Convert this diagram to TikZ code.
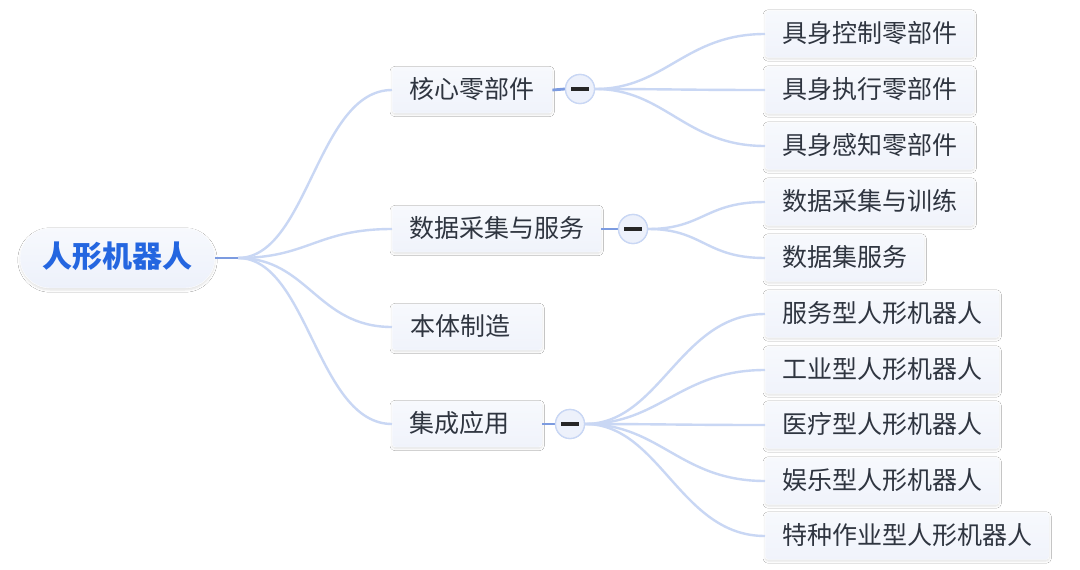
\documentclass[tikz,border=0pt]{standalone}
\usepackage{fontspec}
\setmainfont{Noto Sans CJK SC}
\usetikzlibrary{shadows.blur}
\definecolor{linec}{HTML}{C9D7F4}
\definecolor{darkline}{HTML}{7C9BE0}
\definecolor{boxfill}{HTML}{F0F3FB}
\definecolor{boxtop}{HTML}{F7F9FD}
\definecolor{txt}{HTML}{2F3540}
\definecolor{rootblue}{HTML}{2466E0}
\definecolor{rootfill}{HTML}{EDF1FB}
\tikzset{
  base/.style={rounded corners=3pt, top color=boxtop, bottom color=boxfill, draw=white,
    blur shadow={shadow xshift=0pt, shadow yshift=-1.5pt, shadow opacity=12, shadow blur steps=6, shadow blur extra rounding=2pt},
    text=txt, font=\fontsize{25}{25}\selectfont, inner xsep=17pt, inner ysep=0pt,
    minimum height=46pt, text height=20.5pt, text depth=3pt, anchor=west},
  lvone/.style={base, minimum width=150pt, align=left},
  lvtwo/.style={base, minimum height=47pt},
  rootbox/.style={rounded corners=30pt, top color=boxtop, bottom color=rootfill, draw=white, text=rootblue,
    blur shadow={shadow xshift=0pt, shadow yshift=-2pt, shadow opacity=12, shadow blur steps=6},
    font=\fontsize{30}{30}\selectfont\bfseries, minimum height=60pt, minimum width=195pt, inner xsep=20pt,
    text height=23pt, text depth=4pt},
  conn/.style={draw=linec, line width=2.4pt},
  stub/.style={draw=darkline, line width=2.8pt},
  toggle/.style={circle, draw=linec, line width=1.3pt, fill=rootfill, minimum size=29pt, inner sep=0pt},
}
\begin{document}
\begin{tikzpicture}[x=1pt,y=-1pt]
\useasboundingbox[fill=white] (0,0) rectangle (1080,570);

\node[rootbox] (root) at (117.5,258) {人形机器人};
\coordinate (rj) at (238,258);

\node[lvone, text width=126pt] (a) at (392,90) {核心零部件};
\node[lvone] (b) at (392,229) {数据采集与服务};
\node[lvone, text width=114pt] (c) at (392,327) {本体制造};
\node[lvone, text width=116pt] (d) at (392,424) {集成应用};

\node[toggle] (ta) at (580,89) {};
\node[toggle] (tb) at (633,229) {};
\node[toggle] (td) at (570,424) {};

\node[lvtwo] (a1) at (765,34) {具身控制零部件};
\node[lvtwo] (a2) at (765,90) {具身执行零部件};
\node[lvtwo] (a3) at (765,146) {具身感知零部件};
\node[lvtwo] (b1) at (765,202) {数据采集与训练};
\node[lvtwo] (b2) at (765,258) {数据集服务};
\node[lvtwo] (d1) at (765,314) {服务型人形机器人};
\node[lvtwo] (d2) at (765,370) {工业型人形机器人};
\node[lvtwo] (d3) at (765,425) {医疗型人形机器人};
\node[lvtwo] (d4) at (765,481) {娱乐型人形机器人};
\node[lvtwo] (d5) at (765,536) {特种作业型人形机器人};

\foreach \n in {a,b,c,d}{
  \draw[conn] (rj) .. controls +(70,0) and +(-75,0) .. (\n.west);
}
\foreach \n in {a1,a2,a3}{
  \draw[conn] (ta.east) .. controls +(70,0) and +(-80,0) .. (\n.west);
}
\foreach \n in {b1,b2}{
  \draw[conn] (tb.east) .. controls +(55,0) and +(-60,0) .. (\n.west);
}
\foreach \n in {d1,d2,d3,d4,d5}{
  \draw[conn] (td.east) .. controls +(75,0) and +(-85,0) .. (\n.west);
}
\draw[stub] (root.east) -- (rj);
\draw[stub] (a.east) -- (ta.west);
\draw[stub] (b.east) -- (tb.west);
\draw[stub] (d.east) -- (td.west);

\foreach \t in {ta,tb,td}{
  \node[toggle] at (\t) {};
  \draw[black!85, line width=3.6pt] ([xshift=-9pt]\t.center) -- ([xshift=9pt]\t.center);
}
\end{tikzpicture}
\end{document}
